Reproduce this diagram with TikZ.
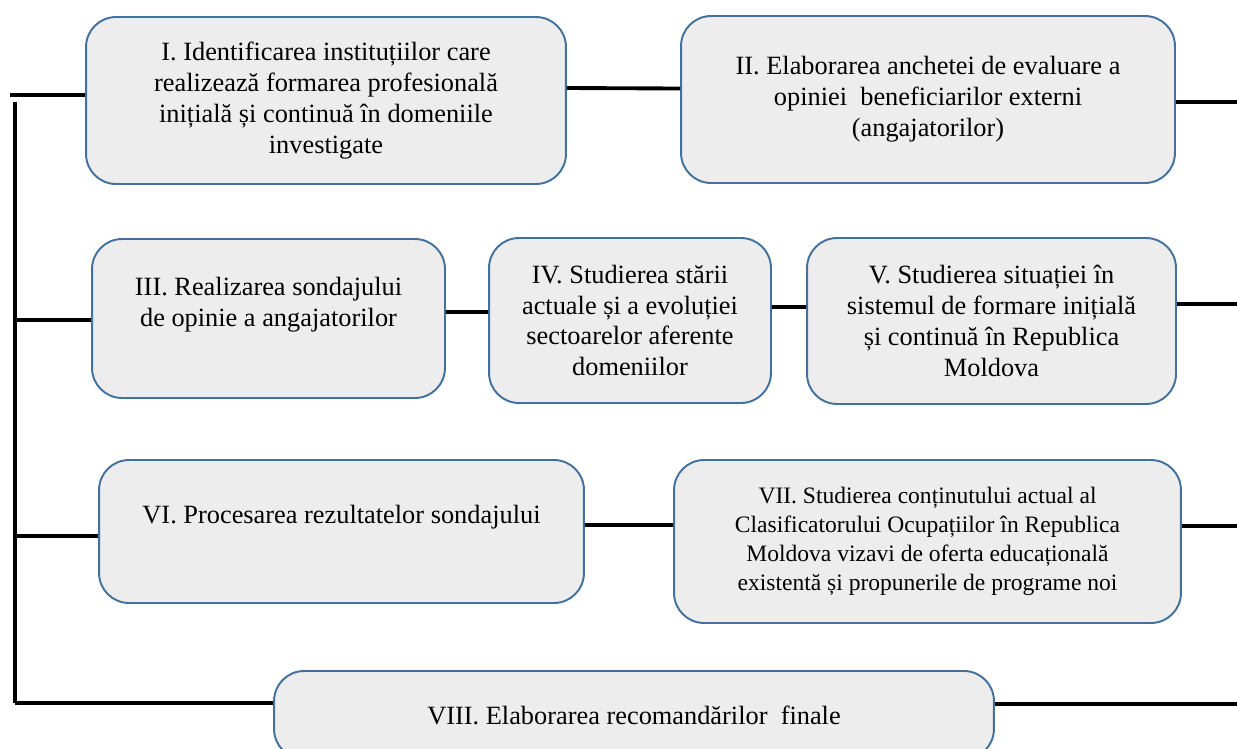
\documentclass[tikz,border=0pt]{standalone}
\usepackage{fontspec}
\setmainfont{Liberation Serif}
\usepackage{tikz}
\usepackage{xcolor}
\usetikzlibrary{positioning, calc}
\definecolor{boxblue}{HTML}{41719C}
\definecolor{boxgray}{HTML}{EDEDED}
\tikzset{block/.style={draw=boxblue, fill=boxgray, line width=1.1pt, rounded corners=0.6cm, align=center, font=\fontsize{15}{17.6}\selectfont},
line/.style={line width=2.2pt}
}
\begin{document}
\begin{tikzpicture}[x=0.02cm, y=-0.02cm]
\useasboundingbox (0,0) rectangle (1237,748);
\node[block, minimum width=9.6cm, minimum height=3.34cm] (a) at (326,100.5) {I. Identificarea instituțiilor care\\realizează formarea profesională\\inițială și continuă în domeniile\\investigate};
\node[block, minimum width=9.88cm, minimum height=3.34cm] (b) at (928,99.5) {II. Elaborarea anchetei de evaluare a\\opiniei\ \ beneficiarilor externi\\(angajatorilor)};
\node[block, minimum width=7.06cm, minimum height=3.18cm, text depth=0.68cm] (c) at (268.5,318.5) {III. Realizarea sondajului\\de opinie a angajatorilor};
\node[block, minimum width=5.64cm, minimum height=3.3cm] (d) at (630,320.5) {IV. Studierea stării\\actuale și a evoluției\\sectoarelor aferente\\domeniilor};
\node[block, minimum width=7.38cm, minimum height=3.32cm] (e) at (991.5,321) {V. Studierea situației în\\sistemul de formare inițială\\și continuă în Republica\\Moldova};
\node[block, minimum width=9.7cm, minimum height=2.86cm, text depth=0.67cm] (f) at (341.5,531.5) {VI. Procesarea rezultatelor sondajului};
\node[block, minimum width=10.14cm, minimum height=3.26cm, font=\fontsize{13.4}{16.4}\selectfont] (g) at (927.5,541.5) {VII. Studierea conținutului actual al\\Clasificatorului Ocupațiilor în Republica\\Moldova vizavi de oferta educațională\\existentă și propunerile de programe noi};
\node[block, minimum width=14.4cm, minimum height=1.76cm] (h) at (634,715) {VIII. Elaborarea recomandărilor\ \ finale};
% left trunk and its branches
\coordinate (top) at (10,95);
\coordinate (t1) at (15,102);
\coordinate (t2) at (15,320);
\coordinate (t3) at (15,536);
\coordinate (t4) at (15,703);
\draw[line] (top) -- (top -| a.west);
\draw[line] (t1) -- (t4);
\draw[line] (t2) -- (t2 -| c.west);
\draw[line] (t3) -- (t3 -| f.west);
\draw[line] (t4) -- (t4 -| h.west);
% links between blocks
\draw[line] ([yshift=0.25cm]a.east) -- ([yshift=0.22cm]b.west);
\draw[line] ([yshift=0.13cm]c.east) -- ([yshift=0.17cm]d.west);
\draw[line] ([yshift=0.27cm]d.east) -- ([yshift=0.28cm]e.west);
\draw[line] ([yshift=0.13cm]f.east) -- ([yshift=0.33cm]g.west);
% free ends on the right
\coordinate (r1) at (1237,102);
\coordinate (r2) at (1237,304);
\coordinate (r3) at (1237,526);
\coordinate (r4) at (1237,704);
\draw[line] (b.east |- r1) -- (r1);
\draw[line] (e.east |- r2) -- (r2);
\draw[line] (g.east |- r3) -- (r3);
\draw[line] (h.east |- r4) -- (r4);
\end{tikzpicture}
\end{document}
